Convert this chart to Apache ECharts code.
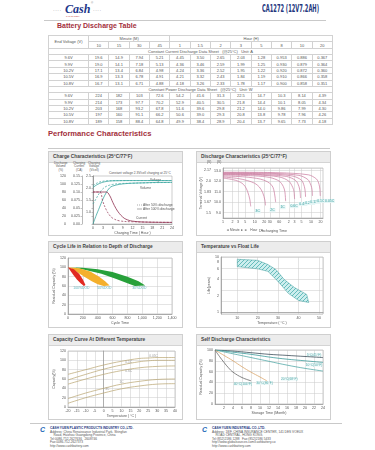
<!DOCTYPE html>
<html><head><meta charset="utf-8">
<script src="https://cdn.jsdelivr.net/npm/echarts@6/dist/echarts.min.js"></script>
<style>
html,body{margin:0;padding:0;background:#fff;width:375px;height:450px;overflow:hidden;font-family:"Liberation Sans",Arial,sans-serif;}
.a{position:absolute;white-space:nowrap;}
.panel{position:absolute;border:1px solid #cfcfcf;box-sizing:border-box;background:#fff;}
.hdr{position:absolute;left:0;top:0;right:0;height:10px;background:#ececec;border-bottom:1px solid #d4d4d4;font-size:4.8px;line-height:10px;color:#444;padding-left:4px;font-weight:bold;}
table{border-collapse:collapse;table-layout:fixed;font-size:4px;color:#555;}
td{border:1px solid #d2d2d2;padding:0;text-align:center;white-space:nowrap;overflow:hidden;line-height:5px;}
tr{height:6.36px;}
.foot{font-size:3.2px;color:#555;line-height:3.6px;}
</style>
</head><body>
<!-- header -->
<div class="a" style="left:53px;top:7px;font-size:5px;color:#888;letter-spacing:0.5px;">····</div>
<div class="a" id="logo" style="left:65px;top:2px;font-size:12px;font-style:italic;font-weight:bold;color:#22368a;font-family:'Liberation Serif',serif;">Cash</div>
<div class="a" style="left:91px;top:1px;font-size:3px;color:#888;">®</div>
<div class="a" style="left:93px;top:7px;font-size:5px;color:#888;letter-spacing:0.5px;">····</div>
<div class="a" style="left:66px;top:15px;font-size:1.8px;color:#c03030;">CASH BATTERY</div>
<div class="a" id="title" style="left:262px;top:2px;font-size:11px;font-weight:bold;color:#23367e;font-family:'Liberation Sans Narrow','DejaVu Sans Condensed',sans-serif;transform-origin:0 0;">CA1272 (12V7.2AH)</div>
<div class="a" style="left:44px;top:20px;width:282px;height:1px;background:#c9c9c9;"></div>
<div class="a" id="t1" style="left:57px;top:22px;font-size:7px;font-weight:bold;color:#a3303c;">Battery Discharge Table</div>
<div class="a" style="left:48px;top:35px;" id="tblwrap"></div>
<div class="a" id="t2" style="left:48px;top:129px;font-size:7.6px;font-weight:bold;color:#a3303c;">Performance Characteristics</div>
<div class="a" style="left:48px;top:148px;width:282px;height:1px;background:#c9c9c9;"></div>

<div class="panel" style="left:48px;top:151px;width:135px;height:85px;"><div class="hdr">Charge Characteristics (25°C/77°F)</div></div>
<div class="panel" style="left:196px;top:151px;width:135px;height:85px;"><div class="hdr">Discharge Characteristics (25°C/77°F)</div></div>
<div class="panel" style="left:48px;top:241px;width:135px;height:87px;"><div class="hdr">Cycle Life in Relation to Depth of Discharge</div></div>
<div class="panel" style="left:196px;top:241px;width:135px;height:87px;"><div class="hdr">Temperature vs Float Life</div></div>
<div class="panel" style="left:48px;top:334px;width:135px;height:86px;"><div class="hdr">Capacity Curve At Different Temperature</div></div>
<div class="panel" style="left:196px;top:334px;width:135px;height:86px;"><div class="hdr">Self Discharge Characteristics</div></div>

<!-- charge chart column heads -->
<div class="a" style="left:54px;top:162px;font-size:3px;color:#555;line-height:3.3px;text-align:center;">Discharge<br>Volume<br>(%)</div>
<div class="a" style="left:73px;top:162px;font-size:3px;color:#555;line-height:3.3px;text-align:center;">Charging<br>Current<br>(CA)</div>
<div class="a" style="left:88px;top:162px;font-size:3px;color:#555;line-height:3.3px;text-align:center;">Charging<br>Voltage<br>(V/cell)</div>
<div class="a" style="left:109px;top:171px;font-size:3.2px;color:#555;">Constant voltage 2.3V/cell charging at 25°C</div>

<!-- footer -->
<div class="a" style="left:30px;top:423px;width:312px;height:1px;background:#c9c9c9;"></div>
<div class="a" style="left:40px;top:426px;font-size:7px;color:#1e6ab8;font-weight:bold;font-style:italic;">C</div>
<div class="a foot" style="left:50px;top:427px;"><b style="color:#23367e">CASH YUEN PLASTIC PRODUCTS INDUSTRY CO.,LTD.</b><br>Address: China Renaissance Industrial Park, Shingfan<br>&nbsp;&nbsp;&nbsp;&nbsp;Road, Huizhou Guangdong Province, China<br>Tel:0086-752-2627636&nbsp;&nbsp;&nbsp;2608746<br>Fax:0086-752-2627373<br>http://www.cashbattery.com</div>
<div class="a" style="left:202px;top:426px;font-size:7px;color:#1e6ab8;font-weight:bold;font-style:italic;">C</div>
<div class="a foot" style="left:212px;top:427px;"><b style="color:#23367e">CASH YUEN INDUSTRIAL CO.,LTD.</b><br>Address: 18/F, CHINA INSURANCE CENTER, 141 DES VOEUX<br>&nbsp;&nbsp;&nbsp;&nbsp;ROAD CENTRAL, HONG KONG.<br>Tel:(852)2186 1288&nbsp;&nbsp;&nbsp;Fax:(852)2186 5433<br>http://www.globalsources.com/cashbattery.co<br>http://www.cashbattery.com</div>

<div id="chart" style="position:absolute;left:0;top:0;width:375px;height:450px;"></div>
<script>
// ================= DATA =================
const minuteCols = ['10','15','30','45'];
const hourCols = ['1','1.5','2','3','5','8','10','20'];
const endVoltages = ['9.6V','9.9V','10.2V','10.5V','10.8V'];
const amps9_6  = ['19.6','14.9','7.94','5.21','4.45','3.50','2.65','2.03','1.28','0.953','0.886','0.367'];
const amps9_9  = ['19.0','14.1','7.18','5.13','4.36','3.46','2.59','1.99','1.25','0.930','0.879','0.364'];
const amps10_2 = ['17.1','13.4','6.84','4.98','4.24','3.36','2.52','1.95','1.22','0.920','0.872','0.360'];
const amps10_5 = ['16.9','13.3','6.78','4.91','4.21','3.32','2.43','1.84','1.19','0.910','0.866','0.358'];
const amps10_8 = ['16.7','13.1','6.71','4.88','4.18','3.26','2.33','1.78','1.17','0.900','0.858','0.351'];
const watts9_6  = ['224','182','103','72.6','54.2','41.6','31.3','22.5','14.7','10.3','8.14','4.39'];
const watts9_9  = ['214','173','97.7','70.2','52.9','40.5','30.5','21.8','14.4','10.1','8.05','4.34'];
const watts10_2 = ['203','168','93.2','67.8','51.6','39.6','29.8','21.2','14.0','9.86','7.99','4.30'];
const watts10_5 = ['197','160','91.1','66.2','50.6','39.0','29.3','20.8','13.8','9.78','7.96','4.26'];
const watts10_8 = ['189','158','88.4','64.8','49.9','38.4','28.9','20.4','13.7','9.65','7.73','4.18'];

// Charge characteristics (hours)
const volume100 = [[0,0],[1,22],[2,42],[3,62],[4,78],[5,90],[6,95],[8,99],[10,101],[12,102],[16,103],[20,104],[24,104]];
const volume50  = [[0,50],[1,64],[2,78],[3,88],[4,94],[5,97],[6,99],[8,101],[12,102],[16,103],[24,104]];
const voltage100 = [[0,2.02],[1,2.12],[2,2.19],[3,2.24],[4,2.27],[5,2.29],[6,2.30],[12,2.31],[24,2.31]];
const voltage50  = [[0,2.10],[1,2.19],[2,2.25],[3,2.28],[4,2.30],[12,2.31],[24,2.31]];
const current100 = [[0,0.100],[4,0.100],[5,0.090],[6,0.068],[7,0.048],[8,0.033],[9,0.022],[10,0.015],[12,0.009],[16,0.006],[24,0.005]];
const current50  = [[0,0.100],[2,0.100],[3,0.070],[4,0.045],[5,0.028],[6,0.018],[8,0.010],[12,0.007],[24,0.005]];
const currentTicks = [0,0.025,0.05,0.075,0.10,0.125,0.15];
const voltageTicks = [1.0,1.5,2.0,2.5];

// Discharge characteristics (minutes, volts of 12V block)
const timeTicksMin = [1,2,3,5,10,20,30,60,120,180,300,600,1200];
const dis3C   = [[1,12.30],[2,12.15],[3,12.00],[4,11.80],[5,11.50],[6,11.00],[7,10.30],[7.5,9.60]];
const dis2C   = [[1,12.40],[3,12.25],[6,12.05],[10,11.80],[14,11.45],[18,10.90],[21,10.20],[22,9.70]];
const dis1C   = [[1,12.50],[5,12.40],[15,12.20],[25,11.95],[35,11.60],[40,11.20],[44,10.50],[46,10.00]];
const dis06C  = [[1,12.60],[10,12.50],[30,12.35],[60,12.00],[80,11.50],[90,11.00],[95,10.10]];
const dis04C  = [[1,12.65],[10,12.60],[60,12.40],[120,12.00],[160,11.40],[175,11.00],[182,10.30]];
const dis025C = [[1,12.70],[10,12.65],[100,12.45],[200,12.05],[250,11.50],[272,11.00],[280,10.40]];
const dis017C = [[1,12.75],[20,12.70],[150,12.50],[300,12.10],[370,11.50],[395,11.00],[405,10.50]];
const dis01C  = [[1,12.80],[30,12.75],[250,12.55],[480,12.15],[600,11.60],[650,11.20],[670,10.60]];
const dis005C = [[1,12.85],[60,12.80],[500,12.60],[900,12.20],[1080,11.70],[1150,11.20],[1180,10.60]];
const disRates = ['3C','2C','1C','0.6C','0.4C','0.25C','0.17C','0.1C','0.05C'];

// Cycle life (cycles, residual capacity %)
const dod100Band = [[0,100],[80,96],[150,86],[200,74],[235,62],[215,60],[170,66],[120,74],[70,84],[30,93],[0,100]];
const dod50Band  = [[0,100],[150,98],[300,91],[420,80],[500,70],[560,61],[480,60],[400,64],[320,70],[220,80],[120,90],[40,98],[0,100]];
const dod30Band  = [[0,100],[200,99],[400,96],[600,90],[800,80],[950,70],[1040,61],[900,60],[800,66],[650,75],[450,86],[250,94],[100,99],[0,100]];
const dodLabels = [['100%DOD',180,55],['50%DOD',490,55],['30%DOD',960,55]];

// Float life (°C, years)
const floatBand = [[10,9.1],[20,8.7],[25,7.3],[29,5.9],[33,3.9],[38,2.8],[44,2.1],[45,1.5],[40,1.64],[35,2.2],[30,3.6],[25,5.5],[20,6.1],[10,6.7],[10,9.1]];
const lifeTicks = [1,2,4,6,8,10];

// Capacity vs temperature (°C, %)
const cap005C = [[-20,70],[-10,80],[0,90],[10,98],[20,104],[25,105],[30,106],[40,106]];
const cap01C  = [[-20,58],[-10,70],[0,81],[10,90],[20,97],[25,99],[30,100],[40,100]];
const cap06C  = [[-20,49],[-10,60],[0,70],[10,78],[20,84],[30,87],[40,88]];
const cap1C   = [[-20,18],[-10,30],[0,40],[10,49],[20,55],[30,59],[40,60]];
const cap3C   = [[-20,8],[-10,20],[0,30],[10,39],[20,45],[30,49],[40,50]];

// Self discharge (months, %)
const sd5C  = [[0,100],[4,98],[8,95],[12,92],[16,90],[20,88],[24,86]];
const sd10C = [[0,100],[4,96],[8,92],[12,87],[16,83],[20,80],[24,77]];
const sd20C = [[0,100],[4,93],[8,86],[12,79],[16,72],[20,66],[24,61]];
const sd30C = [[0,100],[2,90],[4,80],[6,69],[8,59],[10,50],[11.5,43]];
const sd40C = [[0,100],[1,88],[2,77],[3,67],[4,59],[6,49],[8,43]];

// ================= TABLE =================
(function(){
  const rowsA = [amps9_6,amps9_9,amps10_2,amps10_5,amps10_8];
  const rowsW = [watts9_6,watts9_9,watts10_2,watts10_5,watts10_8];
  let h = '<table style="width:284px"><colgroup><col style="width:40px">';
  for (let i=0;i<12;i++) h += '<col style="width:20.33px">';
  h += '</colgroup>';
  h += '<tr><td rowspan="2">End Voltage (V)</td><td colspan="'+minuteCols.length+'">Minute (M)</td><td colspan="'+hourCols.length+'">Hour (H)</td></tr>';
  h += '<tr>' + minuteCols.concat(hourCols).map(c=>'<td>'+c+'</td>').join('') + '</tr>';
  h += '<tr><td colspan="13" style="padding-left:20px">Constant Current Discharge Data Sheet&nbsp;&nbsp;&nbsp;(@25°C)&nbsp;&nbsp;&nbsp;Unit: A</td></tr>';
  rowsA.forEach((r,i)=>{ h += '<tr><td>'+endVoltages[i]+'</td>'+r.map(v=>'<td>'+v+'</td>').join('')+'</tr>'; });
  h += '<tr><td colspan="13" style="padding-left:20px">Constant Power Discharge Data Sheet&nbsp;&nbsp;&nbsp;(@25°C)&nbsp;&nbsp;&nbsp;Unit: W</td></tr>';
  rowsW.forEach((r,i)=>{ h += '<tr><td>'+endVoltages[i]+'</td>'+r.map(v=>'<td>'+v+'</td>').join('')+'</tr>'; });
  h += '</table>';
  document.getElementById('tblwrap').innerHTML = h;
  const t = document.getElementById('title');
  const w = t.getBoundingClientRect().width;
  t.style.transform = 'scaleX(' + (57 / w) + ')';
})();

// ================= CHARTS =================
const chart = echarts.init(document.getElementById('chart'), null, {renderer:'canvas'});
const FF = 'Liberation Sans';
const lab = {fontSize:3.6, color:'#555', margin:2, fontFamily:FF};
const axLine = {show:true, lineStyle:{color:'#8a8a8a', width:0.6}};
const split = {show:true, lineStyle:{color:'#c9c9c9', width:0.5}};
const noSplit = {show:false};
const tick = {show:false};
const nameStyle = {fontSize:3.6, color:'#555', fontFamily:FF};
const log10 = v => Math.log10(v);

function hatch(){
  const c = document.createElement('canvas'); c.width = 4; c.height = 4;
  const g = c.getContext('2d');
  g.fillStyle = 'rgba(200,236,236,0.9)'; g.fillRect(0,0,4,4);
  g.strokeStyle = '#3aa8a8'; g.lineWidth = 0.7;
  g.beginPath(); g.moveTo(0,4); g.lineTo(4,0); g.moveTo(-1,1); g.lineTo(1,-1); g.moveTo(3,5); g.lineTo(5,3); g.stroke();
  return c;
}
function polygon(xi, yi, pts, style, ytf){
  return {type:'custom', xAxisIndex:xi, yAxisIndex:yi, silent:true, z:2,
    data: pts.map(p=>[p[0], ytf ? ytf(p[1]) : p[1]]),
    renderItem: function(params, api){
      if (params.dataIndex !== 0) return null;
      const P = pts.map(p=>api.coord([p[0], ytf ? ytf(p[1]) : p[1]]));
      return {type:'polygon', shape:{points:P}, style:style};
    }};
}
function line(xi, yi, data, color, opts){
  return Object.assign({type:'line', xAxisIndex:xi, yAxisIndex:yi, data:data, symbol:'none', smooth:0.4, silent:true,
    lineStyle:{color:color, width:0.8}}, opts||{});
}

const grids = [
  {left:93, top:176, width:79, height:48},
  {left:223, top:168, width:100, height:50},
  {left:68, top:258, width:104, height:56},
  {left:221, top:257, width:102, height:57},
  {left:68, top:351, width:107, height:56},
  {left:215, top:350, width:108, height:54}
];
grids.forEach(g=>{ g.show = true; g.borderColor = '#9a9a9a'; g.borderWidth = 0.5; g.containLabel = false; });

const xAxes = [
  {gridIndex:0, type:'value', position:'bottom', min:0, max:24, interval:3, axisLine:axLine, axisTick:tick, axisLabel:lab, splitLine:noSplit,
   name:'Charging Time ( Hour )', nameLocation:'middle', nameGap:7, nameTextStyle:nameStyle},
  {gridIndex:1, type:'value', position:'bottom', min:0, max:log10(1440), axisLine:axLine,
   axisTick:{show:false, customValues:timeTicksMin.map(log10)},
   axisLabel:Object.assign({}, lab, {customValues:timeTicksMin.map(log10), formatter:v=>{const m=Math.round(Math.pow(10,v)); return m<=60 ? String(m) : String(Math.round(m/60));}}),
   splitLine:split, name:'Discharging Time', nameLocation:'middle', nameGap:11, nameTextStyle:nameStyle},
  {gridIndex:2, type:'value', position:'bottom', min:0, max:1400, interval:200, axisLine:axLine, axisTick:tick, axisLabel:lab, splitLine:split,
   name:'Cycle Time', nameLocation:'middle', nameGap:6, nameTextStyle:nameStyle},
  {gridIndex:3, type:'value', position:'bottom', min:2, max:52, axisLine:axLine, axisTick:tick,
   axisLabel:Object.assign({}, lab, {customValues:[10,20,30,40,50]}), splitLine:Object.assign({}, split),
   name:'Temperature ( °C )', nameLocation:'middle', nameGap:7, nameTextStyle:nameStyle},
  {gridIndex:4, type:'value', position:'bottom', min:-20, max:40, interval:5, axisLine:axLine, axisTick:tick, axisLabel:lab, splitLine:split,
   name:'Temperature ( °C )', nameLocation:'middle', nameGap:7, nameTextStyle:nameStyle},
  {gridIndex:5, type:'value', position:'bottom', min:0, max:24, interval:2, axisLine:axLine, axisTick:tick,
   axisLabel:Object.assign({}, lab, {formatter:v=>v===0?'':String(v)}), splitLine:split,
   name:'Storage Time (Month)', nameLocation:'middle', nameGap:7, nameTextStyle:nameStyle}
];
const yAxes = [
  {gridIndex:0, type:'value', position:'left', min:0, max:120, interval:20, offset:25, axisLine:axLine, axisTick:{show:true, length:1.5, lineStyle:{color:'#888',width:0.5}}, axisLabel:lab, splitLine:noSplit},
  {gridIndex:0, type:'value', position:'left', min:0, max:0.15, offset:11, axisLine:axLine,
   axisTick:{show:true, length:1.5, customValues:currentTicks, lineStyle:{color:'#888',width:0.5}},
   axisLabel:Object.assign({}, lab, {customValues:currentTicks, formatter:v=>v.toFixed(3).replace(/0$/,'')}), splitLine:noSplit},
  {gridIndex:0, type:'value', position:'left', min:0.5, max:2.5, offset:0, axisLine:axLine,
   axisTick:{show:true, length:1.5, customValues:voltageTicks, lineStyle:{color:'#888',width:0.5}},
   axisLabel:Object.assign({}, lab, {customValues:voltageTicks, formatter:v=>v.toFixed(1)}), splitLine:noSplit},
  {gridIndex:1, type:'value', position:'left', min:8.5, max:13.25, axisLine:axLine, axisTick:tick,
   axisLabel:Object.assign({}, lab, {customValues:[9,10,11,12,13], formatter:v=>v.toFixed(1)}), splitLine:Object.assign({}, split),
   name:'Terminal Voltage (V)', nameLocation:'middle', nameGap:20, nameRotate:90, nameTextStyle:nameStyle},
  {gridIndex:1, type:'value', position:'left', min:8.5/6, max:13.25/6, offset:10, axisLine:{show:false}, axisTick:tick,
   axisLabel:Object.assign({}, lab, {customValues:[1.5,1.67,1.83,2.0,2.17], formatter:v=>v.toFixed(2).replace(/0$/,'')}), splitLine:noSplit},
  {gridIndex:2, type:'value', position:'left', min:0, max:120, interval:20, axisLine:axLine, axisTick:tick, axisLabel:lab, splitLine:split,
   name:'Residual Capacity (%)', nameLocation:'middle', nameGap:9, nameRotate:90, nameTextStyle:nameStyle},
  {gridIndex:3, type:'value', position:'left', min:log10(0.93), max:1, axisLine:axLine, axisTick:tick,
   axisLabel:Object.assign({}, lab, {customValues:lifeTicks.map(log10), formatter:v=>String(Math.round(Math.pow(10,v)))}),
   splitLine:split, name:'Life(years)', nameLocation:'middle', nameGap:8, nameRotate:90, nameTextStyle:nameStyle},
  {gridIndex:4, type:'value', position:'left', min:0, max:120, interval:20, axisLine:axLine, axisTick:tick, axisLabel:lab, splitLine:split,
   name:'Capacity(%)', nameLocation:'middle', nameGap:9, nameRotate:90, nameTextStyle:nameStyle},
  {gridIndex:5, type:'value', position:'left', min:0, max:100, interval:20, axisLine:axLine, axisTick:tick, axisLabel:lab, splitLine:split,
   name:'Residual Capacity (%)', nameLocation:'middle', nameGap:9, nameRotate:90, nameTextStyle:nameStyle}
];

const teal = '#3aa6a0', maroon = '#8e2f4f';
const series = [];
// charge
series.push(line(0,0,volume100,teal,{}));
series.push(line(0,0,volume50,teal,{lineStyle:{color:teal,width:0.7,type:[2,1.5]}}));
series.push(line(0,2,voltage100,teal,{}));
series.push(line(0,2,voltage50,teal,{lineStyle:{color:teal,width:0.7,type:[2,1.5]}}));
series.push(line(0,1,current100,maroon,{}));
series.push(line(0,1,current50,maroon,{lineStyle:{color:maroon,width:0.7,type:[2,1.5]}}));
// discharge
[dis3C,dis2C,dis1C,dis06C,dis04C,dis025C,dis017C,dis01C,dis005C].forEach((d,i)=>{
  series.push(line(1,3,d.map(p=>[log10(p[0]),p[1]]),'#c9759a',{smooth:0.3, lineStyle:{color:'#c8779c',width:0.7},
    endLabel:{show:true, formatter:disRates[i], fontSize:3.4, color:'#2f9a9a', backgroundColor:'#e6f6f6', padding:[0.5,0.8], offset:[-4,5], fontFamily:FF}}));
});
// cycle life
series.push(polygon(2,5,dod30Band,{fill:'#27a03a'}));
series.push(polygon(2,5,dod50Band,{fill:'#f4b02c'}));
series.push(polygon(2,5,dod100Band,{fill:'#e12a22'}));
series.push({type:'scatter', xAxisIndex:2, yAxisIndex:5, symbolSize:0, silent:true,
  data: dodLabels.map(d=>({value:[d[1],d[2]], label:{show:true, formatter:d[0], position:'inside', fontSize:3.4, color:'#39a3b0', fontFamily:FF}}))});
// float life
series.push(polygon(3,6,floatBand,{fill:{image:hatch(), repeat:'repeat'}, stroke:'#3a9a9a', lineWidth:0.5}, log10));
// capacity vs temp
const capNames = ['0.05C','0.1C','0.6C','1C','3C'];
const capLabelAt = [[28,109],[14,96],[14,78],[10,53],[2,38]];
[cap005C,cap01C,cap06C,cap1C,cap3C].forEach((d,i)=>{
  series.push(line(4,7,d,'#b9a56a',{lineStyle:{color:'#b7a46e',width:0.7}}));
  series.push({type:'scatter', xAxisIndex:4, yAxisIndex:7, symbolSize:0, silent:true,
    data:[{value:capLabelAt[i], label:{show:true, formatter:capNames[i], position:'inside', fontSize:3.3, color:'#888', fontFamily:FF}}]});
});
// self discharge
const sdNames = ['5°C(41°F)','10°C(50°F)','20°C(68°F)','30°C(86°F)','40°C(104°F)'];
const sdColors = ['#3d4f5a','#3e9c9c','#55aaa8','#d9a46a','#666'];
const sdLabelAt = [[22,90],[22,72],[16.5,46],[11,38],[6.2,37]];
[sd5C,sd10C,sd20C,sd30C,sd40C].forEach((d,i)=>{
  series.push(line(5,8,d,sdColors[i],{}));
  series.push({type:'scatter', xAxisIndex:5, yAxisIndex:8, symbolSize:0, silent:true,
    data:[{value:sdLabelAt[i], label:{show:true, formatter:sdNames[i], position:'inside', fontSize:3.3, color:'#2f9a9a', backgroundColor:'#e8f6f6', fontFamily:FF}}]});
});

const gtext = (x,y,t,extra)=>Object.assign({type:'text', left:x, top:y, style:Object.assign({text:t, fontSize:3.3, fill:'#555', fontFamily:FF}, extra||{})});
chart.setOption({
  animation:false,
  grid:grids, xAxis:xAxes, yAxis:yAxes, series:series,
  graphic:[
    {type:'line', shape:{x1:137,y1:205,x2:142,y2:205}, style:{stroke:'#555',lineWidth:0.5,lineDash:[1,1]}},
    gtext(143,203.5,'After 50% discharge'),
    {type:'line', shape:{x1:137,y1:209,x2:142,y2:209}, style:{stroke:'#555',lineWidth:0.5}},
    gtext(143,207.5,'After 100% discharge'),
    gtext(150,178.5,'Voltage'),
    gtext(140,187,'Volume'),
    gtext(136,216.5,'Current'),
    gtext(207,161,'(V)      (V)'),
    gtext(226,228.5,'◄ Minute ►◄    Hour    ►',{fontSize:3.2})
  ]
});
</script>
</body></html>
